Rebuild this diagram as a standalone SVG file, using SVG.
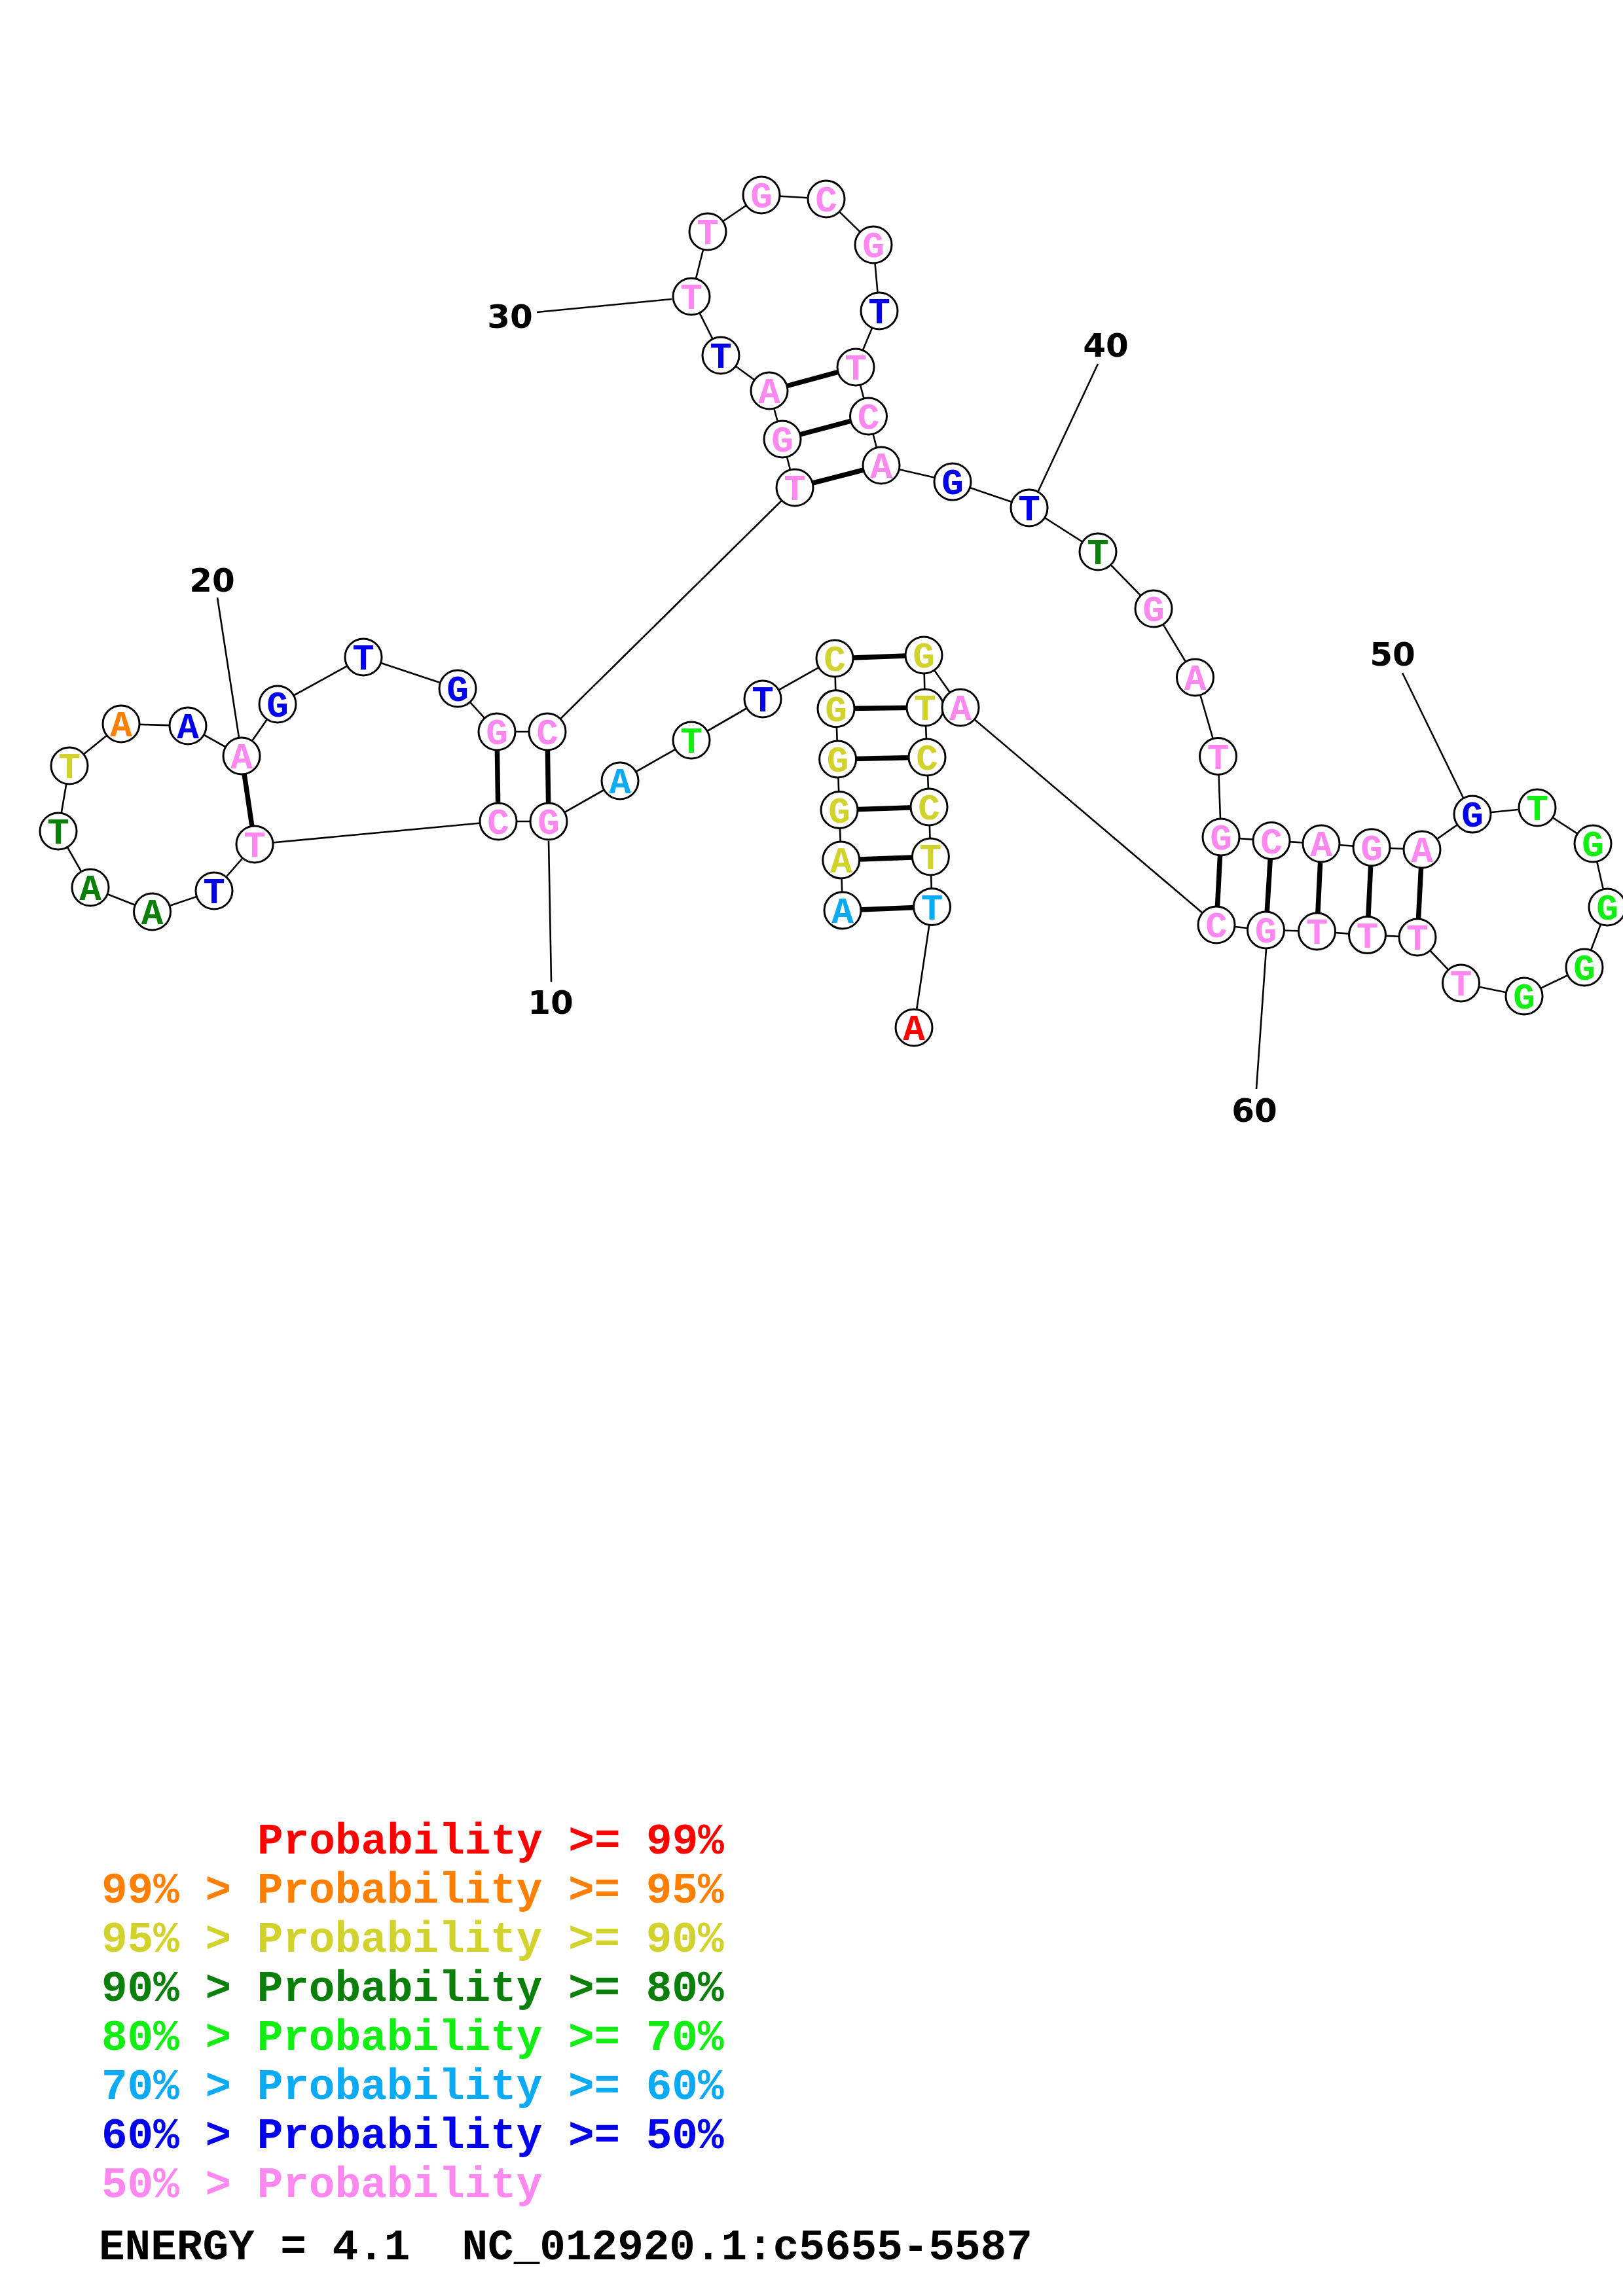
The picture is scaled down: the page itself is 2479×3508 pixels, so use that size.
<svg xmlns="http://www.w3.org/2000/svg" width="2479" height="3508" viewBox="0 0 2479 3508">
<style>
.bb{stroke:#000;stroke-width:2.6;fill:none}
.bp{stroke:#000;stroke-width:7.5;fill:none}
.tk{stroke:#000;stroke-width:2.6;fill:none}
circle{fill:#fff;stroke:#000;stroke-width:3}
.nt{font-family:"Liberation Mono","Courier New",monospace;font-weight:bold;font-size:56px;text-anchor:middle}
.num{font-family:"DejaVu Sans","Liberation Sans",sans-serif;font-weight:bold;font-size:50px;text-anchor:middle;fill:#000}
.lg{font-family:"Liberation Mono","Courier New",monospace;font-weight:bold;font-size:66px}
.r{fill:#ff0000}.o{fill:#ff8000}.y{fill:#d2d22d}.dg{fill:#0a800a}.g{fill:#11ee11}.lb{fill:#0aaaf5}.b{fill:#0000ee}.p{fill:#ff88f0}.k{fill:#000}
</style>
<rect width="2479" height="3508" fill="#fff"/>
<g id="connectors">
<polyline class="bb" points="1287,1391 1284.7,1314 1282,1237.5 1279.6,1160 1277,1082.7 1275,1006 1165,1068 1056,1131 947,1193 838,1255 761,1255 389,1290 327,1361 232.5,1393 138,1356 89,1270 106,1170 185,1106 287,1109 369,1155 424,1076 555,1004 699,1052 759,1118 836,1118 1214,745 1195,671 1175,597 1101,543 1056,453 1081,354 1163,298 1262,304 1334,374 1343,475 1307,561 1326.5,636 1346,711 1455,736 1572,776 1677,843 1762,930 1825.5,1035 1860.5,1155.5 1865,1279 1942,1284.6 2018,1289 2095,1294.7 2172,1298 2249,1244 2348,1234 2433,1289 2455,1386 2420,1478 2328,1522 2231.5,1502 2165,1432 2088.5,1428.6 2011.5,1423 1933.5,1421 1858,1413 1467,1081 1411,1001 1413,1081 1416,1157 1419,1233 1421.4,1309 1423.5,1385.5 1396,1570"/>
<line class="bp" x1="1287" y1="1391" x2="1423.5" y2="1385.5"/>
<line class="bp" x1="1284.7" y1="1314" x2="1421.4" y2="1309"/>
<line class="bp" x1="1282" y1="1237.5" x2="1419" y2="1233"/>
<line class="bp" x1="1279.6" y1="1160" x2="1416" y2="1157"/>
<line class="bp" x1="1277" y1="1082.7" x2="1413" y2="1081"/>
<line class="bp" x1="1275" y1="1006" x2="1411" y2="1001"/>
<line class="bp" x1="838" y1="1255" x2="836" y2="1118"/>
<line class="bp" x1="761" y1="1255" x2="759" y2="1118"/>
<line class="bp" x1="389" y1="1290" x2="369" y2="1155"/>
<line class="bp" x1="1214" y1="745" x2="1346" y2="711"/>
<line class="bp" x1="1195" y1="671" x2="1326.5" y2="636"/>
<line class="bp" x1="1175" y1="597" x2="1307" y2="561"/>
<line class="bp" x1="1865" y1="1279" x2="1858" y2="1413"/>
<line class="bp" x1="1942" y1="1284.6" x2="1933.5" y2="1421"/>
<line class="bp" x1="2018" y1="1289" x2="2011.5" y2="1423"/>
<line class="bp" x1="2095" y1="1294.7" x2="2088.5" y2="1428.6"/>
<line class="bp" x1="2172" y1="1298" x2="2165" y2="1432"/>
<line class="tk" x1="838" y1="1285" x2="842" y2="1500"/>
<line class="tk" x1="332" y1="913" x2="365" y2="1127"/>
<line class="tk" x1="820" y1="477" x2="1026" y2="457"/>
<line class="tk" x1="1677" y1="556" x2="1586" y2="750"/>
<line class="tk" x1="2142" y1="1028" x2="2235" y2="1219"/>
<line class="tk" x1="1934" y1="1450" x2="1919" y2="1664"/>
</g>
<g id="labels">
<text class="num" x="841" y="1549">10</text>
<text class="num" x="324" y="904">20</text>
<text class="num" x="779" y="501">30</text>
<text class="num" x="1689" y="545">40</text>
<text class="num" x="2127" y="1017">50</text>
<text class="num" x="1916" y="1714">60</text>
</g>
<g id="nodes">
<g id="n1"><circle cx="1287" cy="1391" r="28"/><text class="nt lb" x="1287" y="1410">A</text></g>
<g id="n2"><circle cx="1284.7" cy="1314" r="28"/><text class="nt y" x="1284.7" y="1333">A</text></g>
<g id="n3"><circle cx="1282" cy="1237.5" r="28"/><text class="nt y" x="1282" y="1256.5">G</text></g>
<g id="n4"><circle cx="1279.6" cy="1160" r="28"/><text class="nt y" x="1279.6" y="1179">G</text></g>
<g id="n5"><circle cx="1277" cy="1082.7" r="28"/><text class="nt y" x="1277" y="1101.7">G</text></g>
<g id="n6"><circle cx="1275" cy="1006" r="28"/><text class="nt y" x="1275" y="1025">C</text></g>
<g id="n7"><circle cx="1165" cy="1068" r="28"/><text class="nt b" x="1165" y="1087">T</text></g>
<g id="n8"><circle cx="1056" cy="1131" r="28"/><text class="nt g" x="1056" y="1150">T</text></g>
<g id="n9"><circle cx="947" cy="1193" r="28"/><text class="nt lb" x="947" y="1212">A</text></g>
<g id="n10"><circle cx="838" cy="1255" r="28"/><text class="nt p" x="838" y="1274">G</text></g>
<g id="n11"><circle cx="761" cy="1255" r="28"/><text class="nt p" x="761" y="1274">C</text></g>
<g id="n12"><circle cx="389" cy="1290" r="28"/><text class="nt p" x="389" y="1309">T</text></g>
<g id="n13"><circle cx="327" cy="1361" r="28"/><text class="nt b" x="327" y="1380">T</text></g>
<g id="n14"><circle cx="232.5" cy="1393" r="28"/><text class="nt dg" x="232.5" y="1412">A</text></g>
<g id="n15"><circle cx="138" cy="1356" r="28"/><text class="nt dg" x="138" y="1375">A</text></g>
<g id="n16"><circle cx="89" cy="1270" r="28"/><text class="nt dg" x="89" y="1289">T</text></g>
<g id="n17"><circle cx="106" cy="1170" r="28"/><text class="nt y" x="106" y="1189">T</text></g>
<g id="n18"><circle cx="185" cy="1106" r="28"/><text class="nt o" x="185" y="1125">A</text></g>
<g id="n19"><circle cx="287" cy="1109" r="28"/><text class="nt b" x="287" y="1128">A</text></g>
<g id="n20"><circle cx="369" cy="1155" r="28"/><text class="nt p" x="369" y="1174">A</text></g>
<g id="n21"><circle cx="424" cy="1076" r="28"/><text class="nt b" x="424" y="1095">G</text></g>
<g id="n22"><circle cx="555" cy="1004" r="28"/><text class="nt b" x="555" y="1023">T</text></g>
<g id="n23"><circle cx="699" cy="1052" r="28"/><text class="nt b" x="699" y="1071">G</text></g>
<g id="n24"><circle cx="759" cy="1118" r="28"/><text class="nt p" x="759" y="1137">G</text></g>
<g id="n25"><circle cx="836" cy="1118" r="28"/><text class="nt p" x="836" y="1137">C</text></g>
<g id="n26"><circle cx="1214" cy="745" r="28"/><text class="nt p" x="1214" y="764">T</text></g>
<g id="n27"><circle cx="1195" cy="671" r="28"/><text class="nt p" x="1195" y="690">G</text></g>
<g id="n28"><circle cx="1175" cy="597" r="28"/><text class="nt p" x="1175" y="616">A</text></g>
<g id="n29"><circle cx="1101" cy="543" r="28"/><text class="nt b" x="1101" y="562">T</text></g>
<g id="n30"><circle cx="1056" cy="453" r="28"/><text class="nt p" x="1056" y="472">T</text></g>
<g id="n31"><circle cx="1081" cy="354" r="28"/><text class="nt p" x="1081" y="373">T</text></g>
<g id="n32"><circle cx="1163" cy="298" r="28"/><text class="nt p" x="1163" y="317">G</text></g>
<g id="n33"><circle cx="1262" cy="304" r="28"/><text class="nt p" x="1262" y="323">C</text></g>
<g id="n34"><circle cx="1334" cy="374" r="28"/><text class="nt p" x="1334" y="393">G</text></g>
<g id="n35"><circle cx="1343" cy="475" r="28"/><text class="nt b" x="1343" y="494">T</text></g>
<g id="n36"><circle cx="1307" cy="561" r="28"/><text class="nt p" x="1307" y="580">T</text></g>
<g id="n37"><circle cx="1326.5" cy="636" r="28"/><text class="nt p" x="1326.5" y="655">C</text></g>
<g id="n38"><circle cx="1346" cy="711" r="28"/><text class="nt p" x="1346" y="730">A</text></g>
<g id="n39"><circle cx="1455" cy="736" r="28"/><text class="nt b" x="1455" y="755">G</text></g>
<g id="n40"><circle cx="1572" cy="776" r="28"/><text class="nt b" x="1572" y="795">T</text></g>
<g id="n41"><circle cx="1677" cy="843" r="28"/><text class="nt dg" x="1677" y="862">T</text></g>
<g id="n42"><circle cx="1762" cy="930" r="28"/><text class="nt p" x="1762" y="949">G</text></g>
<g id="n43"><circle cx="1825.5" cy="1035" r="28"/><text class="nt p" x="1825.5" y="1054">A</text></g>
<g id="n44"><circle cx="1860.5" cy="1155.5" r="28"/><text class="nt p" x="1860.5" y="1174.5">T</text></g>
<g id="n45"><circle cx="1865" cy="1279" r="28"/><text class="nt p" x="1865" y="1298">G</text></g>
<g id="n46"><circle cx="1942" cy="1284.6" r="28"/><text class="nt p" x="1942" y="1303.6">C</text></g>
<g id="n47"><circle cx="2018" cy="1289" r="28"/><text class="nt p" x="2018" y="1308">A</text></g>
<g id="n48"><circle cx="2095" cy="1294.7" r="28"/><text class="nt p" x="2095" y="1313.7">G</text></g>
<g id="n49"><circle cx="2172" cy="1298" r="28"/><text class="nt p" x="2172" y="1317">A</text></g>
<g id="n50"><circle cx="2249" cy="1244" r="28"/><text class="nt b" x="2249" y="1263">G</text></g>
<g id="n51"><circle cx="2348" cy="1234" r="28"/><text class="nt g" x="2348" y="1253">T</text></g>
<g id="n52"><circle cx="2433" cy="1289" r="28"/><text class="nt g" x="2433" y="1308">G</text></g>
<g id="n53"><circle cx="2455" cy="1386" r="28"/><text class="nt g" x="2455" y="1405">G</text></g>
<g id="n54"><circle cx="2420" cy="1478" r="28"/><text class="nt g" x="2420" y="1497">G</text></g>
<g id="n55"><circle cx="2328" cy="1522" r="28"/><text class="nt g" x="2328" y="1541">G</text></g>
<g id="n56"><circle cx="2231.5" cy="1502" r="28"/><text class="nt p" x="2231.5" y="1521">T</text></g>
<g id="n57"><circle cx="2165" cy="1432" r="28"/><text class="nt p" x="2165" y="1451">T</text></g>
<g id="n58"><circle cx="2088.5" cy="1428.6" r="28"/><text class="nt p" x="2088.5" y="1447.6">T</text></g>
<g id="n59"><circle cx="2011.5" cy="1423" r="28"/><text class="nt p" x="2011.5" y="1442">T</text></g>
<g id="n60"><circle cx="1933.5" cy="1421" r="28"/><text class="nt p" x="1933.5" y="1440">G</text></g>
<g id="n61"><circle cx="1858" cy="1413" r="28"/><text class="nt p" x="1858" y="1432">C</text></g>
<g id="n63"><circle cx="1411" cy="1001" r="28"/><text class="nt y" x="1411" y="1020">G</text></g>
<g id="n64"><circle cx="1413" cy="1081" r="28"/><text class="nt y" x="1413" y="1100">T</text></g>
<g id="n62"><circle cx="1467" cy="1081" r="28"/><text class="nt p" x="1467" y="1100">A</text></g>
<g id="n65"><circle cx="1416" cy="1157" r="28"/><text class="nt y" x="1416" y="1176">C</text></g>
<g id="n66"><circle cx="1419" cy="1233" r="28"/><text class="nt y" x="1419" y="1252">C</text></g>
<g id="n67"><circle cx="1421.4" cy="1309" r="28"/><text class="nt y" x="1421.4" y="1328">T</text></g>
<g id="n68"><circle cx="1423.5" cy="1385.5" r="28"/><text class="nt lb" x="1423.5" y="1404.5">T</text></g>
<g id="n69"><circle cx="1396" cy="1570" r="28"/><text class="nt r" x="1396" y="1589">A</text></g>
</g>
<g id="legend">
<text class="lg r" x="393" y="2832">Probability &gt;= 99%</text>
<text class="lg o" x="155" y="2907">99% &gt; Probability &gt;= 95%</text>
<text class="lg y" x="155" y="2982">95% &gt; Probability &gt;= 90%</text>
<text class="lg dg" x="155" y="3057">90% &gt; Probability &gt;= 80%</text>
<text class="lg g" x="155" y="3132">80% &gt; Probability &gt;= 70%</text>
<text class="lg lb" x="155" y="3207">70% &gt; Probability &gt;= 60%</text>
<text class="lg b" x="155" y="3282">60% &gt; Probability &gt;= 50%</text>
<text class="lg p" x="155" y="3357">50% &gt; Probability</text>
<text class="lg k" x="151" y="3452" xml:space="preserve">ENERGY = 4.1  NC_012920.1:c5655-5587</text>
</g>
</svg>
